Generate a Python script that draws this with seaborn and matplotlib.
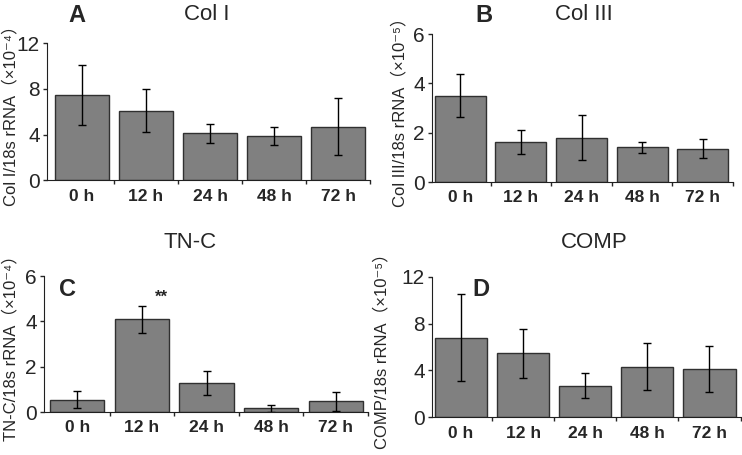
import numpy as np
import pandas as pd
import matplotlib
matplotlib.use('Agg')
import matplotlib.pyplot as plt
import seaborn as sns

# %% values
times = ['0 h', '12 h', '24 h', '48 h', '72 h']

col1_mean = [7.45, 6.1, 4.1, 3.9, 4.7]
col1_sd = [2.6, 1.85, 0.85, 0.8, 2.5]

col3_mean = [3.5, 1.63, 1.8, 1.4, 1.35]
col3_sd = [0.87, 0.5, 0.9, 0.22, 0.38]

tnc_mean = [0.55, 4.1, 1.27, 0.17, 0.47]
tnc_sd = [0.37, 0.6, 0.52, 0.15, 0.43]

comp_mean = [6.8, 5.45, 2.7, 4.3, 4.1]
comp_sd = [3.7, 2.1, 1.1, 2.0, 1.95]

# %% style
sns.set_style('ticks')
plt.rcParams['font.family'] = ['Liberation Sans', 'Noto Sans CJK SC', 'DejaVu Sans']

fig = plt.figure(figsize=(7.42, 4.55), dpi=100)

panels = [
    # mean, sd, rect, ylim, yticks, ylabel, xlim, label x
    (col1_mean, col1_sd, [0.063, 0.604, 0.436, 0.301], 12, [0, 4, 8, 12],
     'Col I/18s rRNA（×10⁻⁴）', (-0.55, 4.47), -0.087),
    (col3_mean, col3_sd, [0.582, 0.600, 0.406, 0.325], 6, [0, 2, 4, 6],
     'Col III/18s rRNA（×10⁻⁵）', (-0.47, 4.46), -0.080),
    (tnc_mean, tnc_sd, [0.059, 0.0945, 0.437, 0.2985], 6, [0, 2, 4, 6],
     'TN-C/18s rRNA（×10⁻⁴）', (-0.52, 4.47), -0.077),
    (comp_mean, comp_sd, [0.582, 0.083, 0.416, 0.309], 12, [0, 4, 8, 12],
     'COMP/18s rRNA（×10⁻⁵）', (-0.47, 4.5), -0.136),
]

axes = []
for mean, sd, rect, ytop, yticks, ylab, xlim, labx in panels:
    ax = fig.add_axes(rect)
    df = pd.DataFrame({'time': times, 'value': mean})
    sns.barplot(data=df, x='time', y='value', ax=ax, color='#808080',
                edgecolor='#303030', linewidth=1, width=0.84, saturation=1)
    ax.errorbar(np.arange(len(times)), mean, yerr=sd, fmt='none',
                ecolor='black', elinewidth=1, capsize=3, capthick=1)
    ax.set_ylim(0, ytop)
    ax.set_xlim(*xlim)
    ax.set_yticks(yticks)
    ax.set_yticklabels([str(t) for t in yticks], fontsize=15)
    ax.set_xticks(range(len(times)))
    ax.set_xticklabels(times, fontsize=12.5, fontweight='bold')
    ax.set_xticks(np.arange(0.5, len(times), 1), minor=True)
    ax.tick_params(axis='x', which='major', length=0, pad=6)
    ax.tick_params(axis='x', which='minor', length=3, direction='out', width=1)
    ax.tick_params(axis='y', length=3, direction='out', width=1, pad=2)
    ax.set_xlabel('')
    ax.set_ylabel(ylab, fontsize=12)
    ax.yaxis.set_label_coords(labx, 0.5)
    for s in ['top', 'right']:
        ax.spines[s].set_visible(False)
    ax.spines['left'].set_color('#202020')
    ax.spines['bottom'].set_color('#202020')
    axes.append(ax)

# significance mark on TN-C 12 h
axes[2].text(1.3, tnc_mean[1] + tnc_sd[1] + 0.35, '**', ha='center', va='center',
             fontsize=12, fontweight='bold')

# titles and panel letters
fig.text(207 / 742, 1 - 14 / 455, 'Col I', ha='center', va='center', fontsize=16)
fig.text(584 / 742, 1 - 14 / 455, 'Col III', ha='center', va='center', fontsize=16)
fig.text(190 / 742, 1 - 243 / 455, 'TN-C', ha='center', va='center', fontsize=16)
fig.text(594 / 742, 1 - 243 / 455, 'COMP', ha='center', va='center', fontsize=16)

fig.text(77 / 742, 1 - 16 / 455, 'A', ha='center', va='center', fontsize=17, fontweight='bold')
fig.text(484 / 742, 1 - 16 / 455, 'B', ha='center', va='center', fontsize=17, fontweight='bold')
fig.text(68 / 742, 1 - 290 / 455, 'C', ha='center', va='center', fontsize=17, fontweight='bold')
fig.text(481 / 742, 1 - 290 / 455, 'D', ha='center', va='center', fontsize=17, fontweight='bold')

fig.savefig('out.png', dpi=100)
